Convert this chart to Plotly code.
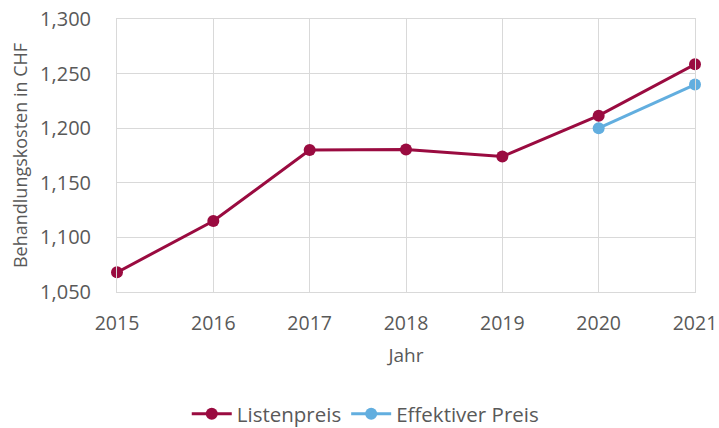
import plotly.graph_objects as go

# Daten
jahre = [2015, 2016, 2017, 2018, 2019, 2020, 2021]
listenpreis = [1068, 1115, 1180, 1180.5, 1174, 1211.5, 1258.5]
jahre_eff = [2020, 2021]
effektiver_preis = [1200, 1240]

rot = "#9A0B40"
blau = "#62AEDF"
grau = "#595959"
font = "Open Sans, sans-serif"

fig = go.Figure()
fig.add_trace(go.Scatter(
    x=jahre, y=listenpreis, name="Listenpreis", mode="lines+markers",
    line=dict(color=rot, width=3), marker=dict(size=12, color=rot),
    cliponaxis=False,
))
fig.add_trace(go.Scatter(
    x=jahre_eff, y=effektiver_preis, name="Effektiver Preis", mode="lines+markers",
    line=dict(color=blau, width=3), marker=dict(size=12, color=blau),
    cliponaxis=False,
))

fig.update_layout(
    width=719, height=428,
    margin=dict(l=117, r=24, t=19, b=136),
    paper_bgcolor="white", plot_bgcolor="white",
    font=dict(family=font, size=18, color=grau),
    showlegend=True,
    legend=dict(orientation="h", xref="container", yref="container",
                x=0.508, xanchor="center", y=0.033, yanchor="middle",
                font=dict(size=20.5, color=grau), itemwidth=40, traceorder="normal"),
    xaxis=dict(
        title=dict(text="Jahr", standoff=13, font=dict(size=19)),
        range=[2015, 2021], tickmode="array", tickvals=jahre,
        tickfont=dict(size=19.5), ticklabeloverflow="allow",
        showgrid=True, gridcolor="#D9D9D9", gridwidth=1,
        showline=True, linecolor="#D9D9D9", mirror=True,
        zeroline=False, ticks="", ticklabelstandoff=14, automargin=False,
    ),
    yaxis=dict(
        title=dict(text="Behandlungskosten in CHF", standoff=7, font=dict(size=18)),
        range=[1050, 1300], dtick=50, tickformat=",",
        tickfont=dict(size=20), ticklabeloverflow="allow",
        showgrid=True, gridcolor="#D9D9D9", gridwidth=1,
        showline=True, linecolor="#D9D9D9", mirror=True,
        zeroline=False, ticks="", ticklabelstandoff=21, automargin=False,
    ),
)

# Seitenrand entfernen, damit die Figur genau ins Fenster passt
fig.write_html("out.html", config={"displayModeBar": False},
               post_script="document.body.style.margin='0';")
